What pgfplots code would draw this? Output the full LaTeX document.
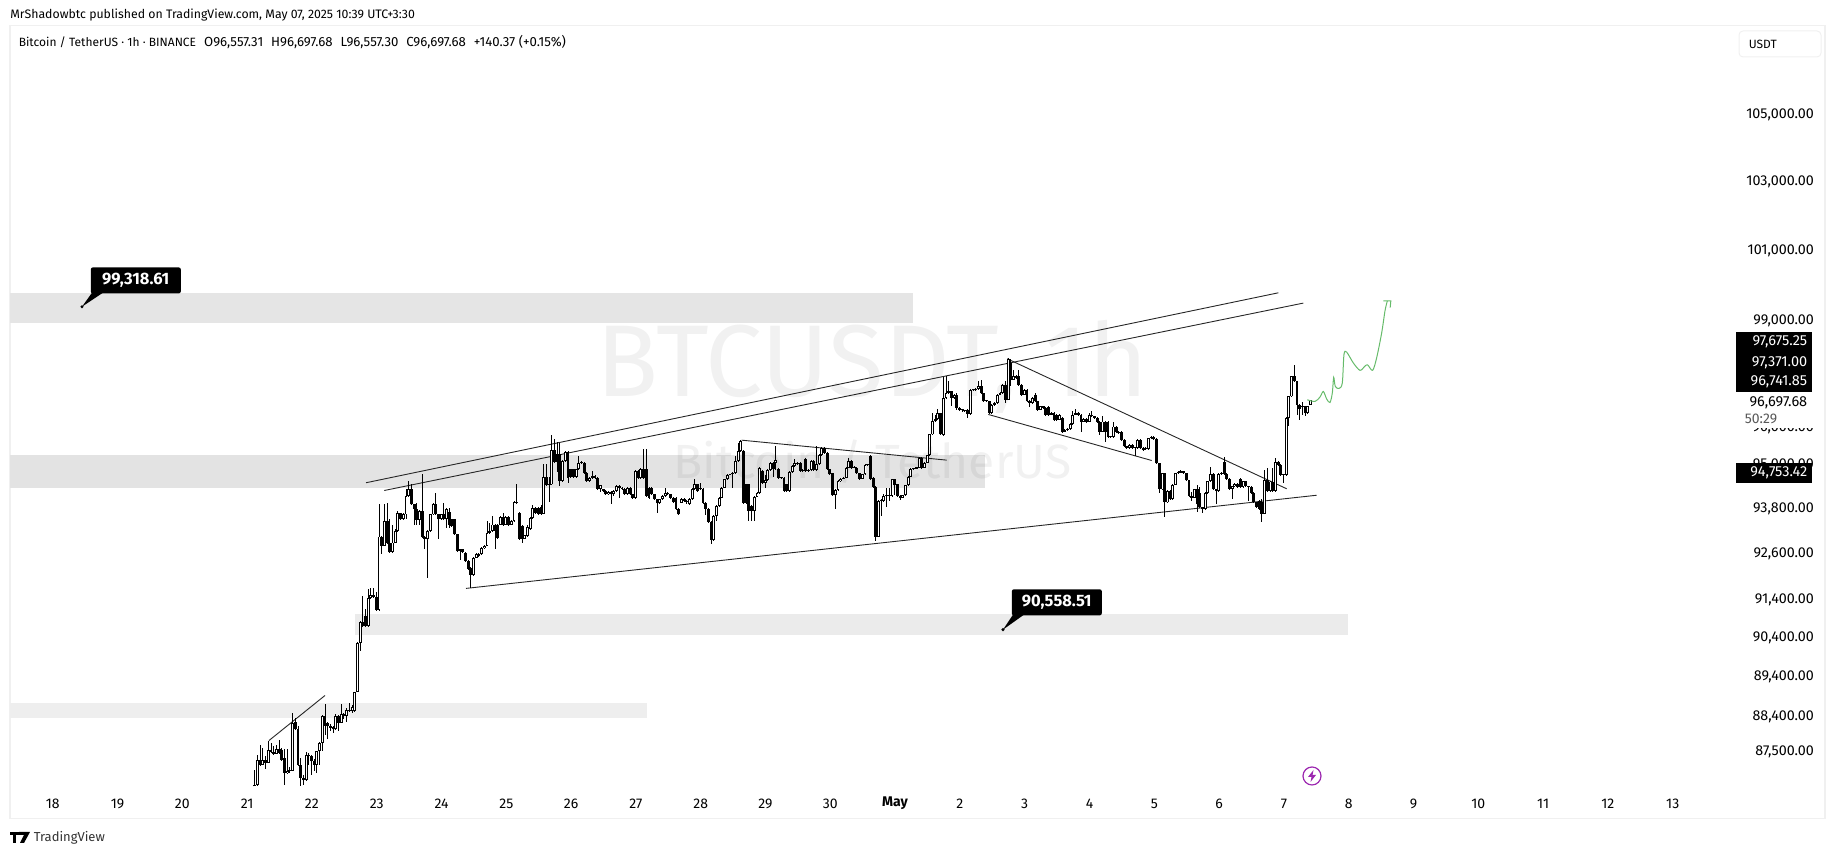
\documentclass[border=0pt]{standalone}
\usepackage{fontspec}
\usepackage{pgfplots}
\usepackage{pgfplotstable}
\pgfplotsset{compat=1.18}
\setmainfont{Fira Sans}
\definecolor{frame}{HTML}{F0F0F0}
\definecolor{zone1}{HTML}{E5E5E5}
\definecolor{zone2}{HTML}{E3E3E3}
\definecolor{zone3}{HTML}{EBEBEB}
\definecolor{zone4}{HTML}{EEEEEE}
\definecolor{fcgreen}{HTML}{66BB6A}
\definecolor{bolt}{HTML}{9C27B0}
% one reference pixel is a quarter point: at 1pt a pixel the log axis overflows TeX's dimensions
\newdimen\px \px=0.25pt
\newcommand{\fs}[1]{\fontsize{\the\dimexpr#1\px\relax}{\the\dimexpr#1\px\relax}\selectfont}

% hourly candles, first row is 21 Apr 03:00
\pgfplotstableread{
o h l c
86590 87000 86590 86630
86630 87380 86590 87250
87250 87610 87090 87130
87130 87550 87130 87250
87250 87340 87020 87170
87170 87710 87170 87490
87490 87660 87420 87440
87440 87590 87380 87400
87400 87630 87390 87510
87510 87740 87400 87420
87490 87550 87230 87250
87290 87520 86630 86920
86920 87520 86900 86980
86960 87080 86920 86980
86980 88430 86960 88180
88190 88300 87990 88010
88010 88090 87120 87130
87130 87290 86590 86800
86800 86880 86630 86740
86740 87440 86720 87380
87360 87420 87130 87340
87340 87380 86880 87210
87210 87270 86960 87130
87130 87480 86920 87460
87460 87690 87130 87670
87670 88380 87460 88350
88350 88640 87880 88110
88180 88200 87760 88090
88110 88140 87970 88050
88070 88100 87920 88010
88010 88390 87990 88350
88350 88370 87970 88180
88180 88660 88170 88410
88410 88430 88280 88360
88360 88560 88190 88510
88510 88685 88450 88470
88470 88620 88430 88580
88470 88970 88450 88960
88960 90240 88950 90220
90220 90780 90000 90760
90760 91440 90640 90650
90910 91100 90620 90640
90640 91610 90620 91370
91370 91650 91350 91460
91460 91650 91380 91400
91400 91530 91040 91070
91070 93860 91040 93000
93000 93015 92530 92760
92760 93860 92740 93410
93410 93900 92820 92840
92840 93460 92570 92590
92590 93320 92570 92840
92840 93190 92820 93150
93150 93680 93130 93640
93640 93640 93440 93460
93460 93640 93440 93590
93590 94260 93460 94080
94080 94490 94060 94260
94260 94400 93840 93860
93860 93880 93320 93730
93730 93900 93320 93440
93440 93700 93320 93680
93680 94670 92970 93000
93000 93020 92660 92930
92930 93170 91910 93150
93150 93610 93130 93590
93590 93900 93570 93860
93860 94170 93570 93590
93590 93610 92930 93460
93460 93610 93440 93590
93590 93900 93440 93460
93460 93750 93240 93730
93660 93770 93240 93320
93460 93480 93260 93280
93460 93480 93040 93060
93060 93080 92590 92610
92610 92680 92380 92660
92660 92680 92570 92590
92570 92590 92330 92350
92350 92370 92110 92134
92170 92190 91650 91980
91980 92460 91960 92440
92440 92550 92420 92530
92530 92550 92470 92490
92530 92720 92500 92700
92700 92780 92680 92760
92760 93410 92740 93100
93100 93370 93080 93150
93150 93550 93130 93320
93320 93340 92660 93150
93320 93340 92950 92970
93320 93550 93300 93530
93530 93640 93300 93320
93320 93550 93300 93530
93530 93550 93300 93320
93320 93430 93300 93410
93410 93950 93390 93930
93930 94420 93880 93900
93640 93650 92925 92943
93280 93300 92836 92943
92943 93050 92925 93032
93014 93300 92990 93264
93192 93520 93170 93497
93497 93833 93480 93770
93770 93790 93620 93640
93770 93790 93595 93613
93788 93833 93595 93613
93613 94938 93595 94602
94602 94938 94360 94378
94378 94602 93923 94396
94396 95728 94380 95329
95329 95618 94985 95002
95209 95545 94730 95002
95209 95527 94351 94485
94485 95050 94465 95029
95029 95300 95000 95274
95274 95290 94440 94575
94802 94820 94580 94602
94802 94820 94580 94602
94602 94820 94580 94802
94802 95164 94780 94984
94984 95020 94960 95002
94984 95000 94690 94712
94712 94730 94460 94485
94485 94600 94460 94575
94575 94757 94550 94620
94620 94640 94550 94575
94575 94600 94260 94279
94279 94390 94200 94369
94261 94280 94190 94216
94216 94240 94100 94127
94127 94210 94100 94189
94189 94210 93860 94127
94127 94240 94080 94216
94216 94370 94190 94351
94351 94370 94036 94306
94306 94330 94250 94279
94279 94300 94100 94127
94127 94330 94100 94306
94306 94330 94100 94127
94127 94150 94015 94036
94036 94780 94015 94757
94757 94780 94550 94575
94575 94847 94550 94820
94820 95350 94550 94575
94802 95347 94050 94081
94306 94330 94015 94036
94306 94330 94100 94127
94127 94150 93980 93996
93996 94010 93640 93887
93887 94010 93870 93996
93996 94100 93980 94081
94081 94306 94060 94171
94171 94190 94100 94127
94127 94150 94015 94036
94036 94050 93900 93923
94036 94050 93700 93725
93725 93750 93570 93595
93909 94020 93890 93999
93999 94041 93930 93953
93953 93980 93860 93926
93864 94020 93840 93999
93999 94290 93980 94266
94266 94533 94250 94401
94401 94420 94200 94221
94266 94447 94240 94311
94284 94300 93890 93909
93909 93930 93580 93730
93730 93750 93370 93387
93387 93410 92796 92910
92910 93570 92890 93549
93549 93840 93400 93820
93820 94060 93800 94041
94041 94330 94020 94311
94311 94550 94290 94533
94533 94680 94510 94660
94660 94690 94640 94670
94670 94720 94300 94697
94697 95165 94680 95032
95032 95530 95010 95302
95302 95590 95280 95576
95302 95320 93890 93909
94401 94420 93890 93909
94401 94420 93415 93685
93820 93840 93415 93685
93685 94090 93420 94068
94068 94180 94050 94157
94157 94870 94140 94851
94761 94780 94430 94447
94447 94640 94300 94514
94514 94806 94490 94788
94788 95010 94770 94987
94987 95005 94600 94806
94987 95439 94790 95049
94806 94830 94550 94578
94578 94600 94540 94560
94578 94600 94200 94221
94401 94420 94200 94221
94221 94750 94200 94733
94733 94920 94710 94897
94897 95095 94870 94987
94987 95010 94920 94942
94987 95005 94740 94761
94761 94800 94740 94780
95095 95120 94740 94761
94761 94810 94740 94788
94788 95050 94770 95032
95032 95050 94770 94788
94788 95439 94770 94942
94942 95210 94920 95184
95184 95410 95165 95393
95393 95410 95240 95257
95257 95275 94785 94806
94806 94825 94650 94670
94697 94715 94085 94103
94103 94270 93730 94248
94248 94510 94230 94492
94492 94570 94475 94550
94550 94600 94530 94578
94578 94870 94560 94851
94851 95120 94830 95032
95032 95050 94830 94851
94851 94890 94830 94870
94851 94870 94675 94697
94697 94715 94530 94550
94550 94690 94530 94670
94670 94940 94650 94923
94923 94960 94905 94940
95165 95184 94515 94533
94578 94600 94320 94338
94338 94360 92880 92996
92996 93975 92975 93953
93953 94000 93549 93980
93953 94131 93930 94086
94086 94300 93800 94100
94100 94310 93950 94086
94086 94550 94070 94533
94533 94550 94120 94374
94401 94420 94060 94086
94086 94110 93975 94041
94041 94120 94020 94103
94103 94390 94085 94374
94374 94620 94355 94605
94605 94830 94585 94806
94806 94845 94785 94824
94824 94870 94805 94851
94851 95140 94830 95120
95120 95140 94830 94851
94851 95005 94830 94987
94987 95205 94965 95184
95184 95780 95165 95758
95758 96352 95740 96123
96123 96300 96100 96169
96169 96443 96150 96333
96333 96350 95740 95758
95744 97341 95720 96757
96757 97360 96740 96896
96896 97219 96880 96941
96941 96960 96525 96757
96757 96870 96740 96849
96849 96896 96433 96479
96479 96500 96410 96433
96433 96450 96380 96415
96415 96430 96370 96387
96433 96450 96203 96323
96323 97005 96300 96987
96987 97005 96950 96968
96968 97030 96950 97005
97005 97219 96985 97080
97080 97266 96880 96896
96896 96910 96650 96664
96664 96710 96640 96690
96664 96680 96320 96341
96341 96590 96320 96571
96571 96640 96550 96617
96617 96870 96600 96849
96849 96920 96830 96896
96896 97145 96880 97126
97126 97219 96617 96710
96710 97860 96690 97848
97736 97850 97100 97266
97266 97547 97250 97360
97313 97400 97290 97360
97360 97547 97105 97126
97126 97145 96830 96849
96849 97005 96830 96987
96987 97005 96640 96664
96664 96690 96500 96617
96617 96775 96600 96757
96849 96896 96645 96664
96664 96680 96415 96433
96433 96545 96415 96525
96525 96545 96460 96479
96479 96500 96275 96295
96506 96525 96275 96295
96295 96360 96275 96341
96341 96360 96120 96139
96295 96315 96140 96157
96157 96315 96140 96295
96203 96220 95815 95835
95835 95900 95815 95881
95881 95920 95860 95900
95900 96065 95880 96046
96046 96387 96025 96295
96295 96451 96275 96341
96341 96360 96275 96295
96295 96315 95835 96111
96111 96195 96090 96175
96175 96195 96090 96111
96111 96341 96090 96295
96295 96387 96230 96249
96249 96270 96185 96203
96203 96225 96090 96111
96111 96130 95744 95835
95835 96249 95815 96111
96111 96130 95562 95835
96111 96130 95660 95681
95681 95720 95660 95700
95681 96111 95660 95973
95973 95990 95815 95835
95835 95855 95770 95790
95835 95855 95590 95608
95608 95625 95405 95426
95426 95445 95360 95381
95381 95490 95360 95471
95471 95490 95360 95381
95381 95420 95165 95400
95381 95625 95360 95608
95608 95625 95360 95381
95381 95400 95305 95327
95381 95400 95335 95354
95354 95670 95335 95653
95653 95710 95635 95681
95681 95700 95610 95626
95626 95645 94950 94968
94968 94985 94171 94259
94259 94718 94240 94700
94700 94718 93523 93911
93911 94235 93890 94215
94215 94235 93975 93997
93997 94410 93975 94390
94390 94718 94370 94700
94700 94745 94680 94718
94718 94790 94700 94745
94745 94765 94680 94700
94700 94718 94485 94505
94505 94525 94065 94085
94085 94200 93954 94041
94041 94280 94020 94259
94259 94390 93652 93867
94171 94330 93760 93781
93781 93800 93635 93738
93738 94190 93720 94171
94171 94500 94150 94479
94479 94880 94460 94682
94682 94700 94240 94259
94259 94280 93867 94215
94215 94700 94195 94682
94682 94720 94660 94700
95013 95150 94660 94682
94682 94700 94520 94541
94541 94560 94255 94276
94276 94365 94015 94346
94346 94435 94325 94417
94417 94435 94310 94329
94541 94560 94310 94329
94329 94500 94310 94479
94479 94500 94325 94346
94346 94365 93954 94329
94329 94350 94150 94171
94171 94190 93890 93911
93911 93930 93760 93781
93954 93975 93720 93738
93911 94000 93395 93609
93609 94785 93590 94523
94523 94830 94195 94215
94215 94495 94195 94475
94475 94835 94195 94215
94215 95100 94195 95013
95013 95030 94905 94925
94925 94945 94635 94655
94655 94690 94430 94670
94655 96220 94635 96203
96203 96820 96000 96803
96803 97380 96780 97360
97360 97675 97200 97219
97219 97240 96300 96571
96571 96590 96157 96451
96525 96660 96300 96500
96525 96545 96250 96341
96341 96545 96320 96525
96557 96698 96557 96698
}\candles

\begin{document}
\begin{tikzpicture}
\path[use as bounding box] (0\px,0\px) rectangle (1835\px,855\px);
\begin{axis}[
  at={(10\px,36\px)}, anchor=south west,
  scale only axis, width=1815\px, height=793\px,
  ymode=log, clip=true,
  xmin=17.341, xmax=45.35, ymin=85796, ymax=107635,
  axis line style={draw=frame, line width=1.5\px},
  xtick={18,19,...,43},
  xticklabels={18,19,20,21,22,23,24,25,26,27,28,29,30,\textbf{May},2,3,4,5,6,7,8,9,10,11,12,13},
  ytick={87500,88400,89400,90400,91400,92600,93800,95000,96000,99000,101000,103000,105000},
  yticklabels={{87,500.00},{88,400.00},{89,400.00},{90,400.00},{91,400.00},{92,600.00},{93,800.00},{95,000.00},{96,000.00},{99,000.00},{101,000.00},{103,000.00},{105,000.00}},
  yticklabel pos=right, yminorticks=false, xminorticks=false,
  major tick length=0pt,
  x tick label style={font=\fs{14}, anchor=center, yshift=15\px},
  y tick label style={font=\fs{14.3}, anchor=east, xshift=3\px, yshift=-2.5\px},
]
% zones
\addplot[fill=zone1, draw=none] coordinates {(17.341,99696) (31.276,99696) (31.276,98871) (17.341,98871)} --cycle;
\addplot[fill=zone2, draw=none] coordinates {(17.341,95181) (32.388,95181) (32.388,94315) (17.341,94315)} --cycle;
\addplot[fill=zone3, draw=none] coordinates {(22.665,90951) (37.99,90951) (37.99,90407) (22.665,90407)} --cycle;
\addplot[fill=zone4, draw=none] coordinates {(17.341,88665) (27.17,88665) (27.17,88311) (17.341,88311)} --cycle;
% trend lines
\addplot[black!85, line width=0.9\px] coordinates {(22.835,94440) (36.914,99715)};
\addplot[black!85, line width=0.9\px] coordinates {(23.117,94233) (37.299,99420)};
\addplot[black!85, line width=0.9\px] coordinates {(24.378,91631) (37.506,94108)};
\addplot[black!85, line width=0.9\px] coordinates {(28.633,95599) (31.796,95054)};
\addplot[black!85, line width=0.9\px] coordinates {(32.731,97850) (37.043,94279)};
\addplot[black!85, line width=0.9\px] coordinates {(32.438,96305) (34.96,95046)};
\addplot[black!85, line width=0.9\px] coordinates {(21.338,87731) (22.202,88868)};
% candles: wick, body, white inside of the rising ones
\addplot[draw=none, mark=none, error bars/.cd, y dir=both, y explicit, error mark=none,
  error bar style={draw=black, solid, line width=1\px}]
  table[x expr=21.119+\coordindex/24, y=c, y error plus expr=\thisrow{h}-\thisrow{c}, y error minus expr=\thisrow{c}-\thisrow{l}] {\candles};
\addplot[draw=none, mark=none, error bars/.cd, y dir=plus, y explicit, error mark=none,
  error bar style={draw=black, solid, line width=2.9\px}]
  table[x expr=21.119+\coordindex/24, y expr={min(\thisrow{o},\thisrow{c})}, y error plus expr={max(abs(\thisrow{c}-\thisrow{o}),30)}] {\candles};
\addplot[draw=none, mark=none, error bars/.cd, y dir=plus, y explicit, error mark=none,
  error bar style={draw=white, solid, line width=1\px}]
  table[x expr=21.119+\coordindex/24, y expr={\thisrow{o}+25}, y error plus expr={max(\thisrow{c}-\thisrow{o}-50,0)}] {\candles};
% drawn forecast
\addplot[fcgreen, line width=1\px, smooth, tension=0.5] coordinates {
(37.361,96710) (37.48,96664) (37.557,96785) (37.608,96941) (37.66,96729) (37.711,96636)
(37.747,96896) (37.768,97332) (37.793,97080) (37.85,97024) (37.901,97173) (37.927,97970)
(37.968,98036) (38.071,97736) (38.174,97529) (38.25,97642) (38.292,97680) (38.369,97529)
(38.431,97876) (38.509,98582) (38.56,99198) (38.596,99483)};
\addplot[fcgreen, line width=1\px] coordinates {(38.535,99483) (38.65,99483) (38.64,99293)};
% watermark
\node[black, opacity=0.055, font=\fs{102}] at (axis cs:30.65,97620) {BTCUSDT, 1h};
\node[black, opacity=0.055, font=\fs{48}] at (axis cs:30.65,95020) {Bitcoin / TetherUS};
% price notes
\fill[black] (axis cs:18.452,99318.61) circle (1.7\px);
\fill[black] (axis cs:18.452,99318.61) -- ++(10\px,14\px) -- ++(11\px,0\px) -- cycle;
\node[fill=black, text=white, rounded corners=0.5pt, font=\fs{16.5}\bfseries, anchor=south west, minimum width=90\px, minimum height=26\px, inner sep=0pt]
  at ([shift={(8\px,12.5\px)}]axis cs:18.452,99318.61) {99,318.61};
\fill[black] (axis cs:32.665,90558.51) circle (1.7\px);
\fill[black] (axis cs:32.665,90558.51) -- ++(10\px,15\px) -- ++(11\px,0\px) -- cycle;
\node[fill=black, text=white, rounded corners=0.5pt, font=\fs{16.5}\bfseries, anchor=south west, minimum width=90\px, minimum height=26\px, inner sep=0pt]
  at ([shift={(8\px,13.5\px)}]axis cs:32.665,90558.51) {90,558.51};
\end{axis}
% header, price scale tags and logo, in page coordinates
\node[anchor=west, inner sep=0pt, font=\fs{12.3}] at (9.5\px,839.5\px) {MrShadowbtc published on TradingView.com, May 07, 2025 10:39 UTC+3:30};
\node[anchor=west, inner sep=0pt, font=\fs{12}] at (18\px,812.5\px) {Bitcoin / TetherUS · 1h · BINANCE\hspace{2pt}{\fs{13.2}O96,557.31\hspace{2pt}H96,697.68\hspace{2pt}L96,557.30\hspace{2pt}C96,697.68\hspace{2pt}+140.37 (+0.15\%)}};
\draw[frame, line width=1\px, rounded corners=1pt] (1739\px,798\px) rectangle (1821\px,824\px);
\node[anchor=west, inner sep=0pt, font=\fs{12}] at (1748\px,811\px) {USDT};
\fill[white] (1736\px,427\px) rectangle (1814\px,463\px);
\fill[black] (1736\px,463\px) rectangle (1812\px,523\px);
\node[anchor=east, inner sep=0pt, text=white, font=\fs{14.5}] at (1808\px,513\px) {97,675.25};
\node[anchor=east, inner sep=0pt, text=white, font=\fs{14.5}] at (1808\px,492.5\px) {97,371.00};
\node[anchor=east, inner sep=0pt, text=white, font=\fs{14.5}] at (1808\px,473\px) {96,741.85};
\node[anchor=east, inner sep=0pt, font=\fs{14.5}] at (1808\px,452.5\px) {96,697.68};
\node[anchor=east, inner sep=0pt, text=black!65, font=\fs{14}] at (1778\px,436.5\px) {50:29};
\fill[black] (1736\px,372\px) rectangle (1812\px,392\px);
\node[anchor=east, inner sep=0pt, text=white, font=\fs{14.5}] at (1808\px,382\px) {94,753.42};
\draw[bolt, line width=1.2\px] (1312\px,79\px) circle (9\px);
\fill[bolt] (1313.5\px,85\px) -- (1308\px,78\px) -- (1311.5\px,78\px) -- (1310.5\px,73\px) -- (1316\px,80\px) -- (1312.5\px,80\px) -- cycle;
\fill[black] (10\px,23\px) rectangle (19\px,20\px);
\fill[black] (13\px,20\px) rectangle (16\px,12\px);
\fill[black] (19\px,23\px) -- (30\px,23\px) -- (24\px,12\px) -- (20\px,12\px) -- (24\px,20\px) -- (19\px,20\px) -- cycle;
\node[anchor=west, inner sep=0pt, text=black!80, font=\fs{13}] at (33\px,17.5\px) {TradingView};
\end{tikzpicture}
\end{document}
